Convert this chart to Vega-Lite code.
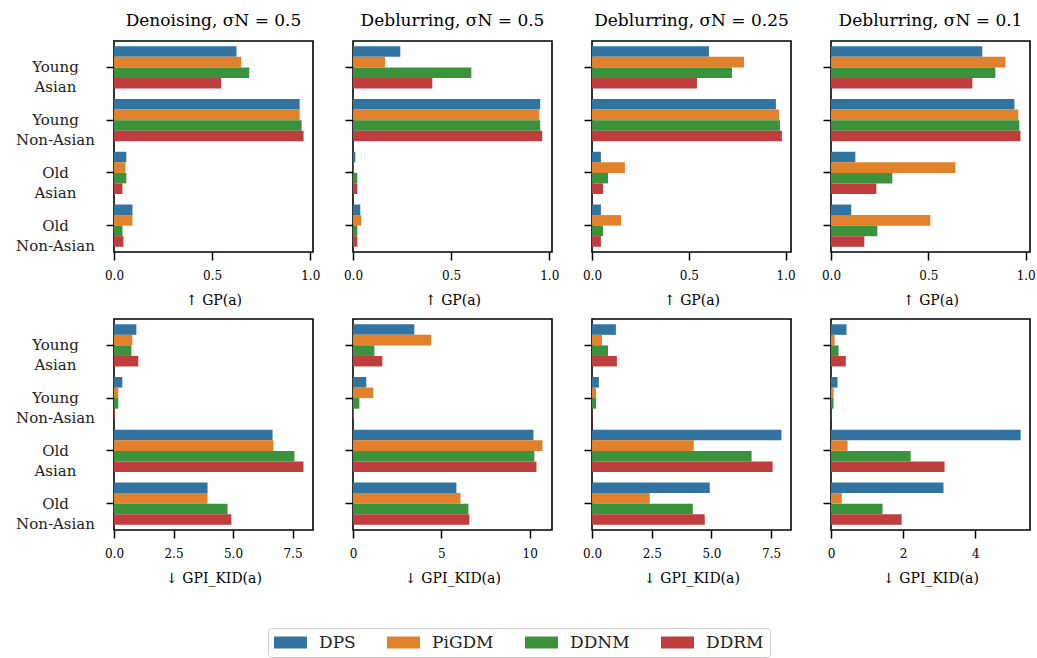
{
  "$schema": "https://vega.github.io/schema/vega-lite/v6.json",
  "padding": {"left": 14, "top": 11, "right": 5, "bottom": 5},
  "config": {
    "font": "DejaVu Serif",
    "view": {"stroke": "black", "strokeWidth": 1.6},
    "axis": {"domain": false, "grid": false, "tickColor": "black", "tickWidth": 1.5, "tickSize": 8, "labelFontSize": 12, "labelColor": "black", "titleFontSize": 14, "titleFontWeight": "normal", "titleColor": "black", "labelFlush": false, "labelOverlap": false},
    "axisX": {"labelPadding": 10, "titlePadding": 12},
    "title": {"fontSize": 17, "fontWeight": "normal", "offset": 11, "color": "black"}
  },
  "datasets": {
    "d": [
      {"p":"gp1","g":"Young Asian","m":"DPS","v":0.624},{"p":"gp1","g":"Young Asian","m":"PiGDM","v":0.648},{"p":"gp1","g":"Young Asian","m":"DDNM","v":0.689},{"p":"gp1","g":"Young Asian","m":"DDRM","v":0.546},
      {"p":"gp1","g":"Young Non-Asian","m":"DPS","v":0.946},{"p":"gp1","g":"Young Non-Asian","m":"PiGDM","v":0.946},{"p":"gp1","g":"Young Non-Asian","m":"DDNM","v":0.956},{"p":"gp1","g":"Young Non-Asian","m":"DDRM","v":0.966},
      {"p":"gp1","g":"Old Asian","m":"DPS","v":0.063},{"p":"gp1","g":"Old Asian","m":"PiGDM","v":0.058},{"p":"gp1","g":"Old Asian","m":"DDNM","v":0.063},{"p":"gp1","g":"Old Asian","m":"DDRM","v":0.043},
      {"p":"gp1","g":"Old Non-Asian","m":"DPS","v":0.094},{"p":"gp1","g":"Old Non-Asian","m":"PiGDM","v":0.094},{"p":"gp1","g":"Old Non-Asian","m":"DDNM","v":0.043},{"p":"gp1","g":"Old Non-Asian","m":"DDRM","v":0.048},

      {"p":"gp2","g":"Young Asian","m":"DPS","v":0.241},{"p":"gp2","g":"Young Asian","m":"PiGDM","v":0.163},{"p":"gp2","g":"Young Asian","m":"DDNM","v":0.603},{"p":"gp2","g":"Young Asian","m":"DDRM","v":0.404},
      {"p":"gp2","g":"Young Non-Asian","m":"DPS","v":0.954},{"p":"gp2","g":"Young Non-Asian","m":"PiGDM","v":0.949},{"p":"gp2","g":"Young Non-Asian","m":"DDNM","v":0.954},{"p":"gp2","g":"Young Non-Asian","m":"DDRM","v":0.964},
      {"p":"gp2","g":"Old Asian","m":"DPS","v":0.012},{"p":"gp2","g":"Old Asian","m":"PiGDM","v":0.002},{"p":"gp2","g":"Old Asian","m":"DDNM","v":0.022},{"p":"gp2","g":"Old Asian","m":"DDRM","v":0.022},
      {"p":"gp2","g":"Old Non-Asian","m":"DPS","v":0.037},{"p":"gp2","g":"Old Non-Asian","m":"PiGDM","v":0.042},{"p":"gp2","g":"Old Non-Asian","m":"DDNM","v":0.022},{"p":"gp2","g":"Old Non-Asian","m":"DDRM","v":0.022},

      {"p":"gp3","g":"Young Asian","m":"DPS","v":0.604},{"p":"gp3","g":"Young Asian","m":"PiGDM","v":0.785},{"p":"gp3","g":"Young Asian","m":"DDNM","v":0.723},{"p":"gp3","g":"Young Asian","m":"DDRM","v":0.542},
      {"p":"gp3","g":"Young Non-Asian","m":"DPS","v":0.950},{"p":"gp3","g":"Young Non-Asian","m":"PiGDM","v":0.966},{"p":"gp3","g":"Young Non-Asian","m":"DDNM","v":0.971},{"p":"gp3","g":"Young Non-Asian","m":"DDRM","v":0.981},
      {"p":"gp3","g":"Old Asian","m":"DPS","v":0.046},{"p":"gp3","g":"Old Asian","m":"PiGDM","v":0.170},{"p":"gp3","g":"Old Asian","m":"DDNM","v":0.083},{"p":"gp3","g":"Old Asian","m":"DDRM","v":0.057},
      {"p":"gp3","g":"Old Non-Asian","m":"DPS","v":0.046},{"p":"gp3","g":"Old Non-Asian","m":"PiGDM","v":0.150},{"p":"gp3","g":"Old Non-Asian","m":"DDNM","v":0.057},{"p":"gp3","g":"Old Non-Asian","m":"DDRM","v":0.046},

      {"p":"gp4","g":"Young Asian","m":"DPS","v":0.777},{"p":"gp4","g":"Young Asian","m":"PiGDM","v":0.896},{"p":"gp4","g":"Young Asian","m":"DDNM","v":0.844},{"p":"gp4","g":"Young Asian","m":"DDRM","v":0.726},
      {"p":"gp4","g":"Young Non-Asian","m":"DPS","v":0.942},{"p":"gp4","g":"Young Non-Asian","m":"PiGDM","v":0.962},{"p":"gp4","g":"Young Non-Asian","m":"DDNM","v":0.967},{"p":"gp4","g":"Young Non-Asian","m":"DDRM","v":0.973},
      {"p":"gp4","g":"Old Asian","m":"DPS","v":0.125},{"p":"gp4","g":"Old Asian","m":"PiGDM","v":0.639},{"p":"gp4","g":"Old Asian","m":"DDNM","v":0.315},{"p":"gp4","g":"Old Asian","m":"DDRM","v":0.233},
      {"p":"gp4","g":"Old Non-Asian","m":"DPS","v":0.104},{"p":"gp4","g":"Old Non-Asian","m":"PiGDM","v":0.510},{"p":"gp4","g":"Old Non-Asian","m":"DDNM","v":0.238},{"p":"gp4","g":"Old Non-Asian","m":"DDRM","v":0.171},

      {"p":"kid1","g":"Young Asian","m":"DPS","v":0.94},{"p":"kid1","g":"Young Asian","m":"PiGDM","v":0.77},{"p":"kid1","g":"Young Asian","m":"DDNM","v":0.73},{"p":"kid1","g":"Young Asian","m":"DDRM","v":1.02},
      {"p":"kid1","g":"Young Non-Asian","m":"DPS","v":0.35},{"p":"kid1","g":"Young Non-Asian","m":"PiGDM","v":0.18},{"p":"kid1","g":"Young Non-Asian","m":"DDNM","v":0.18},{"p":"kid1","g":"Young Non-Asian","m":"DDRM","v":0.04},
      {"p":"kid1","g":"Old Asian","m":"DPS","v":6.66},{"p":"kid1","g":"Old Asian","m":"PiGDM","v":6.70},{"p":"kid1","g":"Old Asian","m":"DDNM","v":7.58},{"p":"kid1","g":"Old Asian","m":"DDRM","v":7.96},
      {"p":"kid1","g":"Old Non-Asian","m":"DPS","v":3.93},{"p":"kid1","g":"Old Non-Asian","m":"PiGDM","v":3.93},{"p":"kid1","g":"Old Non-Asian","m":"DDNM","v":4.77},{"p":"kid1","g":"Old Non-Asian","m":"DDRM","v":4.93},

      {"p":"kid2","g":"Young Asian","m":"DPS","v":3.47},{"p":"kid2","g":"Young Asian","m":"PiGDM","v":4.43},{"p":"kid2","g":"Young Asian","m":"DDNM","v":1.21},{"p":"kid2","g":"Young Asian","m":"DDRM","v":1.66},
      {"p":"kid2","g":"Young Non-Asian","m":"DPS","v":0.75},{"p":"kid2","g":"Young Non-Asian","m":"PiGDM","v":1.15},{"p":"kid2","g":"Young Non-Asian","m":"DDNM","v":0.36},{"p":"kid2","g":"Young Non-Asian","m":"DDRM","v":0.06},
      {"p":"kid2","g":"Old Asian","m":"DPS","v":10.21},{"p":"kid2","g":"Old Asian","m":"PiGDM","v":10.72},{"p":"kid2","g":"Old Asian","m":"DDNM","v":10.26},{"p":"kid2","g":"Old Asian","m":"DDRM","v":10.38},
      {"p":"kid2","g":"Old Non-Asian","m":"DPS","v":5.85},{"p":"kid2","g":"Old Non-Asian","m":"PiGDM","v":6.08},{"p":"kid2","g":"Old Non-Asian","m":"DDNM","v":6.53},{"p":"kid2","g":"Old Non-Asian","m":"DDRM","v":6.58},

      {"p":"kid3","g":"Young Asian","m":"DPS","v":1.00},{"p":"kid3","g":"Young Asian","m":"PiGDM","v":0.42},{"p":"kid3","g":"Young Asian","m":"DDNM","v":0.67},{"p":"kid3","g":"Young Asian","m":"DDRM","v":1.04},
      {"p":"kid3","g":"Young Non-Asian","m":"DPS","v":0.29},{"p":"kid3","g":"Young Non-Asian","m":"PiGDM","v":0.17},{"p":"kid3","g":"Young Non-Asian","m":"DDNM","v":0.17},{"p":"kid3","g":"Young Non-Asian","m":"DDRM","v":0.01},
      {"p":"kid3","g":"Old Asian","m":"DPS","v":7.93},{"p":"kid3","g":"Old Asian","m":"PiGDM","v":4.26},{"p":"kid3","g":"Old Asian","m":"DDNM","v":6.68},{"p":"kid3","g":"Old Asian","m":"DDRM","v":7.56},
      {"p":"kid3","g":"Old Non-Asian","m":"DPS","v":4.93},{"p":"kid3","g":"Old Non-Asian","m":"PiGDM","v":2.42},{"p":"kid3","g":"Old Non-Asian","m":"DDNM","v":4.22},{"p":"kid3","g":"Old Non-Asian","m":"DDRM","v":4.72},

      {"p":"kid4","g":"Young Asian","m":"DPS","v":0.43},{"p":"kid4","g":"Young Asian","m":"PiGDM","v":0.10},{"p":"kid4","g":"Young Asian","m":"DDNM","v":0.21},{"p":"kid4","g":"Young Asian","m":"DDRM","v":0.41},
      {"p":"kid4","g":"Young Non-Asian","m":"DPS","v":0.18},{"p":"kid4","g":"Young Non-Asian","m":"PiGDM","v":0.07},{"p":"kid4","g":"Young Non-Asian","m":"DDNM","v":0.07},{"p":"kid4","g":"Young Non-Asian","m":"DDRM","v":0.01},
      {"p":"kid4","g":"Old Asian","m":"DPS","v":5.26},{"p":"kid4","g":"Old Asian","m":"PiGDM","v":0.46},{"p":"kid4","g":"Old Asian","m":"DDNM","v":2.21},{"p":"kid4","g":"Old Asian","m":"DDRM","v":3.15},
      {"p":"kid4","g":"Old Non-Asian","m":"DPS","v":3.12},{"p":"kid4","g":"Old Non-Asian","m":"PiGDM","v":0.30},{"p":"kid4","g":"Old Non-Asian","m":"DDNM","v":1.43},{"p":"kid4","g":"Old Non-Asian","m":"DDRM","v":1.96}
    ]
  },
  "vconcat": [
    {
      "hconcat": [
        {
          "width": 199, "height": 211, "title": "Denoising, σN = 0.5",
          "data": {"name": "d"}, "transform": [{"filter": "datum.p == 'gp1'"}],
          "mark": "bar",
          "encoding": {
            "y": {"field": "g", "type": "nominal", "sort": ["Young Asian","Young Non-Asian","Old Asian","Old Non-Asian"], "scale": {"paddingInner": 0.2, "paddingOuter": 0.1}, "axis": {"title": null, "labelAlign": "center", "labelBaseline": "middle", "labelPadding": 51, "labelFontSize": 15, "labelLineHeight": 20, "labelExpr": "split(datum.label, ' ')", "labelColor": "#222"}},
            "yOffset": {"field": "m", "sort": ["DPS","PiGDM","DDNM","DDRM"], "scale": {"paddingInner": 0, "paddingOuter": 0}},
            "x": {"field": "v", "type": "quantitative", "scale": {"domain": [0, 1.014], "nice": false}, "axis": {"values": [0, 0.5, 1], "format": ".1f", "title": "↑ GP(a)"}},
            "color": {"field": "m", "type": "nominal", "scale": {"domain": ["DPS","PiGDM","DDNM","DDRM"], "range": ["#3274a1","#e1812c","#3a923a","#c03d3e"]}, "legend": {"orient": "none", "legendX": 154, "legendY": 587, "direction": "horizontal", "columns": 4, "title": null, "symbolType": "M-1,-0.36H1V0.36H-1Z", "symbolSize": 1089, "symbolStrokeWidth": 0, "symbolOpacity": 1, "clipHeight": 17, "labelFontSize": 17, "labelOffset": 12, "columnPadding": 31, "padding": 6, "strokeColor": "#cccccc", "cornerRadius": 3, "fillColor": "white", "labelColor": "#222"}}
          }
        },
        {
          "width": 199, "height": 211, "title": "Deblurring, σN = 0.5",
          "data": {"name": "d"}, "transform": [{"filter": "datum.p == 'gp2'"}],
          "mark": "bar",
          "encoding": {
            "y": {"field": "g", "type": "nominal", "sort": ["Young Asian","Young Non-Asian","Old Asian","Old Non-Asian"], "scale": {"paddingInner": 0.2, "paddingOuter": 0.1}, "axis": {"title": null, "labels": false}},
            "yOffset": {"field": "m", "sort": ["DPS","PiGDM","DDNM","DDRM"], "scale": {"paddingInner": 0, "paddingOuter": 0}},
            "x": {"field": "v", "type": "quantitative", "scale": {"domain": [0, 1.014], "nice": false}, "axis": {"values": [0, 0.5, 1], "format": ".1f", "title": "↑ GP(a)"}},
            "color": {"field": "m", "type": "nominal"}
          }
        },
        {
          "width": 199, "height": 211, "title": "Deblurring, σN = 0.25",
          "data": {"name": "d"}, "transform": [{"filter": "datum.p == 'gp3'"}],
          "mark": "bar",
          "encoding": {
            "y": {"field": "g", "type": "nominal", "sort": ["Young Asian","Young Non-Asian","Old Asian","Old Non-Asian"], "scale": {"paddingInner": 0.2, "paddingOuter": 0.1}, "axis": {"title": null, "labels": false}},
            "yOffset": {"field": "m", "sort": ["DPS","PiGDM","DDNM","DDRM"], "scale": {"paddingInner": 0, "paddingOuter": 0}},
            "x": {"field": "v", "type": "quantitative", "scale": {"domain": [0, 1.028], "nice": false}, "axis": {"values": [0, 0.5, 1], "format": ".1f", "title": "↑ GP(a)"}},
            "color": {"field": "m", "type": "nominal"}
          }
        },
        {
          "width": 199, "height": 211, "title": "Deblurring, σN = 0.1",
          "data": {"name": "d"}, "transform": [{"filter": "datum.p == 'gp4'"}],
          "mark": "bar",
          "encoding": {
            "y": {"field": "g", "type": "nominal", "sort": ["Young Asian","Young Non-Asian","Old Asian","Old Non-Asian"], "scale": {"paddingInner": 0.2, "paddingOuter": 0.1}, "axis": {"title": null, "labels": false}},
            "yOffset": {"field": "m", "sort": ["DPS","PiGDM","DDNM","DDRM"], "scale": {"paddingInner": 0, "paddingOuter": 0}},
            "x": {"field": "v", "type": "quantitative", "scale": {"domain": [0, 1.022], "nice": false}, "axis": {"values": [0, 0.5, 1], "format": ".1f", "title": "↑ GP(a)"}},
            "color": {"field": "m", "type": "nominal"}
          }
        }
      ],
      "spacing": 40, "bounds": "flush"
    },
    {
      "hconcat": [
        {
          "width": 199, "height": 211,
          "data": {"name": "d"}, "transform": [{"filter": "datum.p == 'kid1'"}],
          "mark": "bar",
          "encoding": {
            "y": {"field": "g", "type": "nominal", "sort": ["Young Asian","Young Non-Asian","Old Asian","Old Non-Asian"], "scale": {"paddingInner": 0.2, "paddingOuter": 0.1}, "axis": {"title": null, "labelAlign": "center", "labelBaseline": "middle", "labelPadding": 51, "labelFontSize": 15, "labelLineHeight": 20, "labelExpr": "split(datum.label, ' ')", "labelColor": "#222"}},
            "yOffset": {"field": "m", "sort": ["DPS","PiGDM","DDNM","DDRM"], "scale": {"paddingInner": 0, "paddingOuter": 0}},
            "x": {"field": "v", "type": "quantitative", "scale": {"domain": [0, 8.36], "nice": false}, "axis": {"values": [0, 2.5, 5, 7.5], "format": ".1f", "title": "↓ GPI_KID(a)"}},
            "color": {"field": "m", "type": "nominal"}
          }
        },
        {
          "width": 199, "height": 211,
          "data": {"name": "d"}, "transform": [{"filter": "datum.p == 'kid2'"}],
          "mark": "bar",
          "encoding": {
            "y": {"field": "g", "type": "nominal", "sort": ["Young Asian","Young Non-Asian","Old Asian","Old Non-Asian"], "scale": {"paddingInner": 0.2, "paddingOuter": 0.1}, "axis": {"title": null, "labels": false}},
            "yOffset": {"field": "m", "sort": ["DPS","PiGDM","DDNM","DDRM"], "scale": {"paddingInner": 0, "paddingOuter": 0}},
            "x": {"field": "v", "type": "quantitative", "scale": {"domain": [0, 11.26], "nice": false}, "axis": {"values": [0, 5, 10], "format": "d", "title": "↓ GPI_KID(a)"}},
            "color": {"field": "m", "type": "nominal"}
          }
        },
        {
          "width": 199, "height": 211,
          "data": {"name": "d"}, "transform": [{"filter": "datum.p == 'kid3'"}],
          "mark": "bar",
          "encoding": {
            "y": {"field": "g", "type": "nominal", "sort": ["Young Asian","Young Non-Asian","Old Asian","Old Non-Asian"], "scale": {"paddingInner": 0.2, "paddingOuter": 0.1}, "axis": {"title": null, "labels": false}},
            "yOffset": {"field": "m", "sort": ["DPS","PiGDM","DDNM","DDRM"], "scale": {"paddingInner": 0, "paddingOuter": 0}},
            "x": {"field": "v", "type": "quantitative", "scale": {"domain": [0, 8.33], "nice": false}, "axis": {"values": [0, 2.5, 5, 7.5], "format": ".1f", "title": "↓ GPI_KID(a)"}},
            "color": {"field": "m", "type": "nominal"}
          }
        },
        {
          "width": 199, "height": 211,
          "data": {"name": "d"}, "transform": [{"filter": "datum.p == 'kid4'"}],
          "mark": "bar",
          "encoding": {
            "y": {"field": "g", "type": "nominal", "sort": ["Young Asian","Young Non-Asian","Old Asian","Old Non-Asian"], "scale": {"paddingInner": 0.2, "paddingOuter": 0.1}, "axis": {"title": null, "labels": false}},
            "yOffset": {"field": "m", "sort": ["DPS","PiGDM","DDNM","DDRM"], "scale": {"paddingInner": 0, "paddingOuter": 0}},
            "x": {"field": "v", "type": "quantitative", "scale": {"domain": [0, 5.52], "nice": false}, "axis": {"values": [0, 2, 4], "format": "d", "title": "↓ GPI_KID(a)"}},
            "color": {"field": "m", "type": "nominal"}
          }
        }
      ],
      "spacing": 40, "bounds": "flush"
    }
  ],
  "spacing": 10
}
